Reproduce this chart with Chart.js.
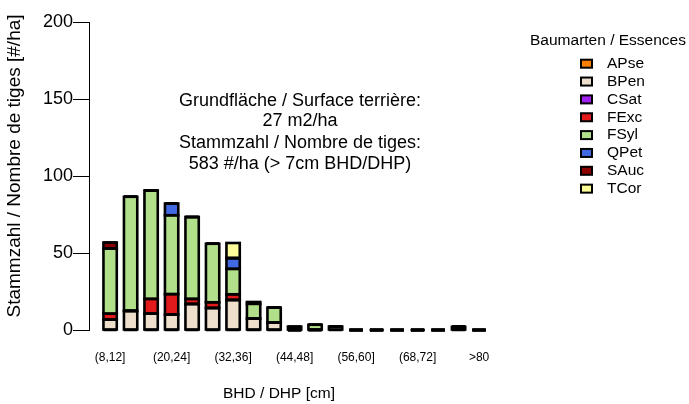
<!DOCTYPE html>
<html>
<head>
<meta charset="utf-8">
<script src="https://cdn.jsdelivr.net/npm/chart.js@4.4.1/dist/chart.umd.min.js"></script>
<style>
  body { margin: 0; background: #fff; }
  canvas { display: block; }
</style>
</head>
<body>
<canvas id="chart" width="689" height="404"></canvas>
<script>
// Durchmesserklassen (BHD / DHP)
const categories = ['(8,12]', '(12,16]', '(16,20]', '(20,24]', '(24,28]', '(28,32]', '(32,36]',
    '(36,40]', '(40,44]', '(44,48]', '(48,52]', '(52,56]', '(56,60]', '(60,64]', '(64,68]',
    '(68,72]', '(72,76]', '(76,80]', '>80'];

// Stammzahl pro Baumart und Klasse [#/ha]
const APse = [0, 0, 0, 0, 0, 0, 0, 0, 0, 0, 0, 0, 0, 0, 0, 0, 0, 0, 0];
const BPen = [6.7, 12.4, 10.6, 10.0, 16.9, 14.3, 19.5, 7.4, 4.8, 0, 0, 2.2, 0, 0, 0, 0, 0, 2.0, 0];
const CSat = [0, 0, 0, 0, 0, 0, 0, 0, 0, 0, 0, 0, 0, 0, 0, 0, 0, 0, 0];
const FExc = [3.9, 0, 9.6, 13.3, 3.3, 3.7, 3.7, 0, 0, 0, 0, 0, 0, 0, 0, 0, 0, 0, 0];
const FSyl = [42.3, 74.1, 70.4, 51.2, 53.2, 38.0, 16.5, 9.6, 9.7, 0, 3.4, 0, 0, 0, 0, 0, 0, 0, 0];
const QPet = [0, 0, 0, 7.6, 0, 0, 7.0, 0, 0, 0, 0, 0, 0, 0, 0, 0, 0, 0, 0];
const SAuc = [3.9, 0, 0, 0, 0, 0, 0, 0, 0, 2.2, 0, 0, 0, 0, 0, 0, 0, 0, 0];
const TCor = [0, 0, 0, 0, 0, 0, 9.8, 1.2, 0, 0, 0, 0, 0, 0, 0, 0, 0, 0, 0];

const speciesNames = ['APse', 'BPen', 'CSat', 'FExc', 'FSyl', 'QPet', 'SAuc', 'TCor'];
const speciesValues = [APse, BPen, CSat, FExc, FSyl, QPet, SAuc, TCor];
const speciesColors = ['#FF7F00', '#EEDFCC', '#A020F0', '#E31A1C', '#B2DF8A', '#4169E1', '#8B0000', '#FFFF99'];

const yTicks = [0, 50, 100, 150, 200];
const xTickEvery = 3;

const infoLines = [
    'Grundfläche / Surface terrière:',
    '27 m2/ha',
    'Stammzahl / Nombre de tiges:',
    '583 #/ha (> 7cm BHD/DHP)'
];
const xTitle = 'BHD / DHP [cm]';
const yTitle = 'Stammzahl / Nombre de tiges [#/ha]';
const legendTitle = 'Baumarten / Essences';

const FONT = '"Liberation Sans", Arial, sans-serif';

// Rahmen wie bei barplot(): Linie auf der Kante, auch bei Balken mit 0
const outlinePlugin = {
    id: 'outline',
    afterDatasetsDraw(chart) {
        const ctx = chart.ctx;
        ctx.save();
        ctx.strokeStyle = '#000';
        ctx.lineWidth = 2.6;
        chart.data.datasets.forEach((ds, i) => {
            const meta = chart.getDatasetMeta(i);
            meta.data.forEach(bar => {
                const p = bar.getProps(['x', 'y', 'base', 'width'], true);
                ctx.strokeRect(p.x - p.width / 2, Math.min(p.y, p.base), p.width, Math.abs(p.base - p.y));
            });
        });
        ctx.restore();
    }
};

// Achsentitel, Text im Diagramm + Legende rechts
const textPlugin = {
    id: 'texts',
    afterDraw(chart) {
        const ctx = chart.ctx;
        ctx.save();
        ctx.fillStyle = '#000';
        ctx.textAlign = 'center';

        ctx.font = '18px ' + FONT;
        ctx.textBaseline = 'alphabetic';
        const baselines = [106, 126, 148, 169];
        infoLines.forEach((line, i) => ctx.fillText(line, 300, baselines[i]));

        // Achsentitel
        ctx.textBaseline = 'middle';
        ctx.font = '15.5px ' + FONT;
        ctx.fillText(xTitle, 279, 394);
        ctx.save();
        ctx.translate(15, 166);
        ctx.rotate(-Math.PI / 2);
        ctx.font = '19px ' + FONT;
        ctx.fillText(yTitle, 0, 0);
        ctx.restore();

        // Legende
        ctx.font = '15.5px ' + FONT;
        ctx.fillText(legendTitle, 608, 41);
        ctx.textAlign = 'left';
        chart.data.datasets.forEach((ds, i) => {
            const cy = 63.7 + i * 17.85;
            ctx.fillStyle = ds.backgroundColor;
            ctx.fillRect(581, cy - 4, 11, 8);
            ctx.strokeStyle = '#000';
            ctx.lineWidth = 2;
            ctx.strokeRect(581, cy - 4, 11, 8);
            ctx.fillStyle = '#000';
            ctx.fillText(ds.label, 607, cy);
        });
        ctx.restore();
    }
};

const datasets = speciesNames.map((name, i) => ({
    label: name,
    data: speciesValues[i].map((v, j) => ({ x: j, y: v })),
    backgroundColor: speciesColors[i],
    borderWidth: 0,
    barPercentage: 0.65,
    categoryPercentage: 1.0
}));

new Chart(document.getElementById('chart'), {
    type: 'bar',
    data: { datasets: datasets },
    options: {
        responsive: false,
        animation: false,
        layout: { padding: { left: 0, top: 22, right: 188, bottom: 0 } },
        plugins: {
            legend: { display: false },
            tooltip: { enabled: false }
        },
        scales: {
            x: {
                type: 'linear',
                stacked: true,
                offset: false,
                min: -1.03,
                max: 19.07,
                grid: { display: false, drawTicks: false, offset: false },
                border: { display: false },
                afterBuildTicks: s => {
                    s.ticks = categories.map((c, i) => ({ value: i })).filter(t => t.value % xTickEvery === 0);
                },
                afterFit: s => { s.height = 74; },
                ticks: {
                    autoSkip: false,
                    maxRotation: 0,
                    padding: 20,
                    color: '#000',
                    font: { family: FONT, size: 12 },
                    callback: v => categories[v]
                }
            },
            y: {
                stacked: true,
                min: 0,
                max: 200,
                afterBuildTicks: s => { s.ticks = yTicks.map(v => ({ value: v })); },
                afterFit: s => { s.width = 89; },
                grid: {
                    display: true,
                    drawOnChartArea: false,
                    drawTicks: true,
                    tickLength: 16,
                    color: '#000'
                },
                border: { display: true, color: '#000', width: 1 },
                ticks: {
                    padding: 0,
                    color: '#000',
                    font: { family: FONT, size: 18 }
                }
            }
        }
    },
    plugins: [outlinePlugin, textPlugin]
});
</script>
</body>
</html>
